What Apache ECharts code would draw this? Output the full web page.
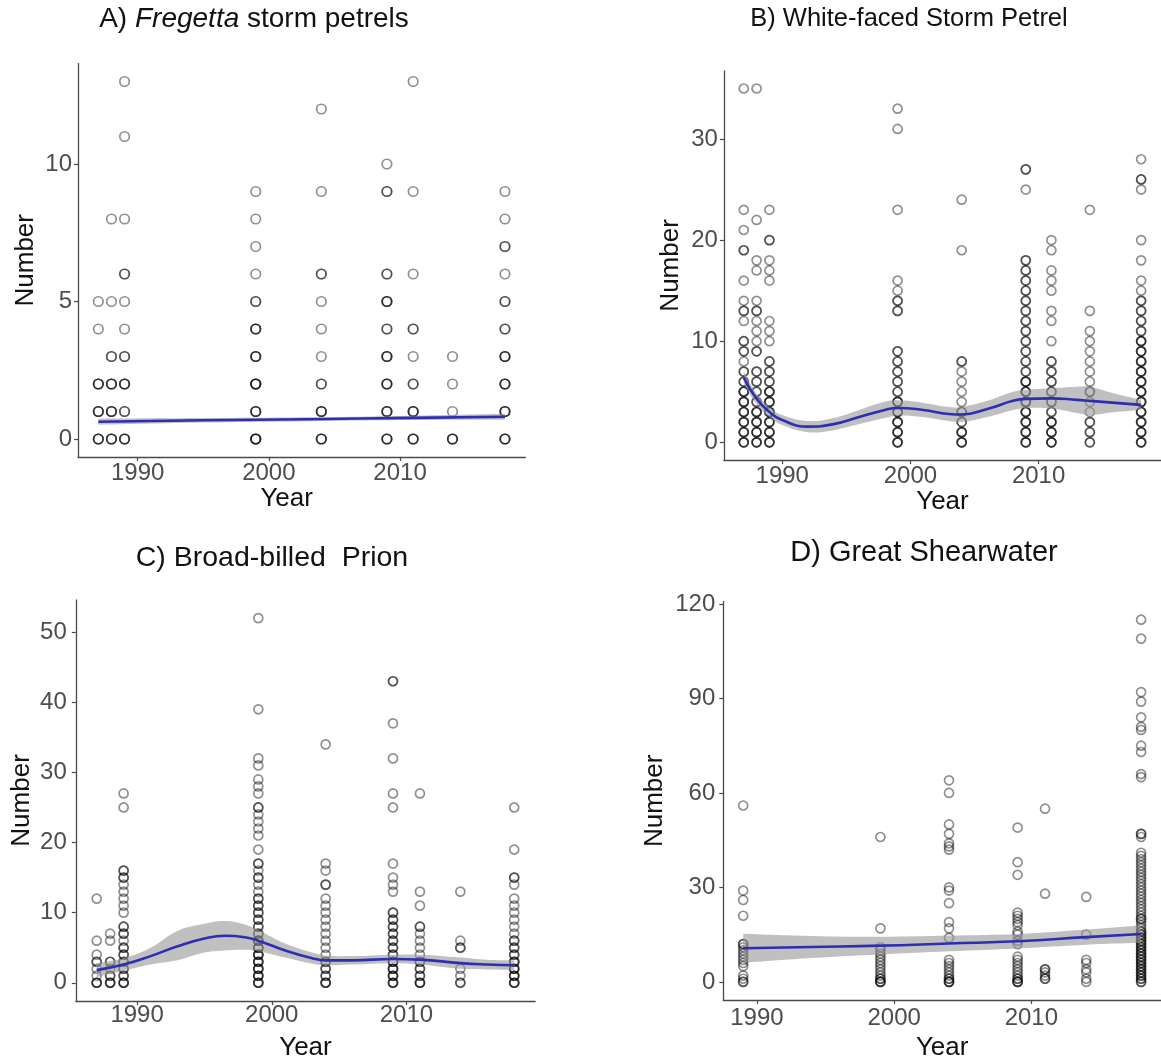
<!DOCTYPE html>
<html>
<head>
<meta charset="utf-8">
<script src="https://cdn.jsdelivr.net/npm/echarts@6/dist/echarts.min.js"></script>
<style>
  html, body { margin: 0; padding: 0; background: #ffffff; }
  #chart { width: 1161px; height: 1062px; }
</style>
</head>
<body>
<div id="chart"></div>
<script>
// ---- Survey counts per year (repeated values = several sightings with the same count) ----
const yearsABC = [1987, 1988, 1989, 1999, 2004, 2009, 2011, 2014, 2018];
const yearsD = [1989, 1999, 2004, 2009, 2011, 2014, 2018];

const fregettaCounts = [
  [0,0,0,1,1,1,2,2,2,4,5],
  [0,0,0,1,1,1,2,2,2,3,3,5,8],
  [0,0,0,1,1,2,2,2,3,3,4,5,6,6,8,11,13],
  [0,0,0,0,1,1,1,2,2,2,2,3,3,3,4,4,4,5,5,6,7,8,9],
  [0,0,0,1,1,1,2,2,3,4,5,6,6,9,12],
  [0,0,0,1,1,1,2,2,2,3,3,3,4,4,5,5,5,6,6,9,9,10],
  [0,0,0,1,1,1,2,2,3,4,4,6,9,13],
  [0,0,0,1,2,3],
  [0,0,0,1,1,1,2,2,2,3,3,3,4,4,5,5,6,7,7,8,9]
];

const whiteFacedCounts = [
  [0,0,0,1,1,1,2,2,2,3,3,3,4,4,4,5,5,5,6,6,7,7,8,9,9,10,10,12,13,13,14,16,19,19,21,23,35],
  [0,0,0,1,1,1,2,2,2,3,3,3,4,4,5,5,6,6,7,7,9,9,10,11,12,13,13,14,17,18,22,35],
  [0,0,0,1,1,1,2,2,2,3,3,3,4,4,4,5,5,5,6,6,7,7,8,8,10,11,12,16,17,18,20,20,23],
  [0,0,0,1,1,1,2,2,2,3,3,3,4,4,4,5,5,6,6,7,7,8,8,9,9,13,13,14,14,15,16,23,31,33],
  [0,0,0,1,1,1,2,2,3,3,4,5,6,7,8,8,19,24],
  [0,0,0,1,1,1,2,2,2,3,3,3,4,4,4,5,5,5,6,6,6,7,7,8,8,9,9,10,10,11,11,12,12,13,13,14,14,15,15,16,16,17,17,18,18,25,27,27],
  [0,0,0,1,1,1,2,2,2,3,3,4,4,5,5,6,6,7,7,8,8,10,12,13,15,16,17,19,20],
  [0,0,1,1,2,2,3,4,5,5,6,7,8,9,10,11,13,23],
  [0,0,0,1,1,1,2,2,2,3,3,3,4,4,4,5,5,5,6,6,6,7,7,7,8,8,8,9,9,9,10,10,10,11,11,12,12,13,13,14,14,15,16,18,20,25,26,26,28]
];

const prionCounts = [
  [0,0,0,1,2,3,3,4,6,12],
  [0,0,0,1,1,2,3,3,6,7],
  [0,0,0,1,1,2,2,3,3,4,4,5,5,6,7,7,8,8,10,11,12,13,14,15,15,16,16,25,27],
  [0,0,0,1,1,1,2,2,2,3,3,3,4,4,4,5,5,5,6,6,6,7,7,8,8,9,9,10,10,11,11,12,12,13,14,15,15,16,17,17,19,21,22,23,24,25,25,27,28,29,31,32,39,52],
  [0,0,0,1,1,2,2,3,3,4,5,6,7,8,9,10,11,12,14,14,16,17,34],
  [0,0,0,1,1,1,2,2,2,3,3,3,4,4,5,5,6,6,7,7,8,8,9,9,10,10,13,14,15,17,25,27,32,37,43,43],
  [0,0,0,1,1,2,2,3,3,4,5,6,7,8,8,11,13,27],
  [0,0,1,2,5,5,6,13],
  [0,0,0,1,1,1,2,2,2,3,3,3,4,4,5,5,6,6,7,8,9,10,11,12,14,15,15,19,25]
];

const shearwaterCounts = [
  [0,0,1,2,5,6,7,8,9,10,11,12,12,21,26,29,56],
  [0,0,0,1,1,2,3,4,5,6,7,8,9,10,11,17,46],
  [0,0,0,1,1,2,3,4,5,6,7,14,17,19,25,29,30,42,43,44,47,50,60,64],
  [0,0,0,1,1,2,3,4,5,6,7,8,12,13,15,16,18,19,20,21,22,34,38,49],
  [1,1,2,3,4,4,28,55],
  [0,1,3,4,6,7,15,27],
  [0,0,1,1,2,2,3,3,4,4,5,5,6,6,7,7,8,8,9,9,10,10,11,11,12,12,13,13,14,14,15,15,16,16,17,18,19,20,20,21,22,23,24,25,26,27,28,29,30,31,32,33,34,35,36,37,38,39,40,41,46,47,47,65,66,73,75,80,81,84,89,92,109,115]
];

// ---- Smoothed trend with confidence band ----
const fitYearsA = [1987, 1995, 2003, 2011, 2018];
const fitA      = [0.63, 0.68, 0.72, 0.77, 0.81];
const fitLowA   = [0.52, 0.60, 0.65, 0.69, 0.70];
const fitHighA  = [0.74, 0.76, 0.79, 0.85, 0.92];

const fitYearsB = [1987, 1988, 1989, 1990, 1992, 1994, 1996, 1998, 1999, 2001, 2003, 2004, 2006, 2008, 2009, 2011, 2013, 2014, 2016, 2018];
const fitB      = [6.4, 4.3, 3.0, 2.2, 1.55, 1.8, 2.5, 3.2, 3.4, 3.2, 2.8, 2.75, 3.3, 4.1, 4.3, 4.35, 4.2, 4.1, 3.9, 3.7];
const fitLowB   = [5.8, 3.8, 2.5, 1.7, 1.0, 1.2, 1.8, 2.4, 2.65, 2.5, 2.1, 2.0, 2.5, 3.2, 3.4, 3.35, 2.9, 2.7, 3.0, 3.2];
const fitHighB  = [7.0, 4.8, 3.5, 2.7, 2.1, 2.4, 3.2, 4.0, 4.15, 3.9, 3.5, 3.5, 4.1, 5.0, 5.2, 5.35, 5.5, 5.5, 4.8, 4.2];

const fitYearsC = [1987, 1989, 1991, 1993, 1995, 1996.5, 1998, 1999, 2001, 2003, 2004, 2006, 2009, 2011, 2014, 2016, 2018];
const fitC      = [1.8, 2.6, 3.8, 5.2, 6.3, 6.7, 6.5, 6.0, 4.6, 3.5, 3.2, 3.2, 3.4, 3.3, 2.8, 2.6, 2.5];
const fitLowC   = [0.8, 1.7, 2.6, 3.2, 4.3, 4.6, 4.7, 4.5, 3.6, 2.7, 2.5, 2.6, 2.8, 2.6, 2.0, 1.9, 1.8];
const fitHighC  = [2.8, 3.5, 5.0, 7.4, 8.4, 8.8, 8.3, 7.5, 5.6, 4.3, 3.9, 3.8, 4.0, 4.0, 3.6, 3.3, 3.2];

const fitYearsD = [1989, 1994, 1999, 2004, 2009, 2014, 2018];
const fitD      = [10.7, 11.1, 11.5, 12.2, 12.9, 14.2, 15.2];
const fitLowD   = [6.1, 7.6, 8.7, 9.7, 10.6, 11.8, 12.4];
const fitHighD  = [15.3, 14.6, 14.3, 14.7, 15.2, 16.6, 18.0];

// ---- Panel layout ----
const FONT = '"Liberation Sans", Arial, sans-serif';
const panels = [
  { grid: { left: 78, top: 63.6, width: 447.3, height: 393.3 },
    xr: [1985.45, 2019.55], yr: [-0.65, 13.65], yTicks: [0, 5, 10],
    years: yearsABC, counts: fregettaCounts,
    fy: fitYearsA, f: fitA, lo: fitLowA, hi: fitHighA,
    sym: 9.5, yGap: 39, xGap: 21, yLblMargin: 6, xLblMargin: 4, yearShift: 30 },
  { grid: { left: 723.9, top: 70.8, width: 443.3, height: 389.2 },
    xr: [1985.45, 2019.55], yr: [-1.75, 36.75], yTicks: [0, 10, 20, 30],
    years: yearsABC, counts: whiteFacedCounts,
    fy: fitYearsB, f: fitB, lo: fitLowB, hi: fitHighB,
    sym: 9, yGap: 40, xGap: 21, yLblMargin: 6, xLblMargin: 4, yearShift: 0 },
  { grid: { left: 75.8, top: 599.9, width: 459.3, height: 403.4 },
    xr: [1985.45, 2019.55], yr: [-2.6, 54.6], yTicks: [0, 10, 20, 30, 40, 50],
    years: yearsABC, counts: prionCounts,
    fy: fitYearsC, f: fitC, lo: fitLowC, hi: fitHighC,
    sym: 9, yGap: 41, xGap: 34, yLblMargin: 9, xLblMargin: 2, yearShift: 0 },
  { grid: { left: 723.3, top: 601.6, width: 440.8, height: 401.7 },
    xr: [1987.55, 2019.45], yr: [-5.75, 120.75], yTicks: [0, 30, 60, 90, 120],
    years: yearsD, counts: shearwaterCounts,
    fy: fitYearsD, f: fitD, lo: fitLowD, hi: fitHighD,
    sym: 9, yGap: 55, xGap: 35, yLblMargin: 8, xLblMargin: 6, yearShift: 0 }
];

const grids = [], xAxes = [], yAxes = [], series = [];

panels.forEach((p, i) => {
  grids.push(Object.assign({ containLabel: false }, p.grid));

  const axisCommon = {
    axisLine: { show: true, onZero: false, lineStyle: { color: '#4a4a4a', width: 1.3 } },
    axisTick: { show: true, length: 4, lineStyle: { color: '#4a4a4a', width: 1.2 } },
    splitLine: { show: false }
  };

  xAxes.push(Object.assign({}, axisCommon, {
    type: 'value', gridIndex: i, min: p.xr[0], max: p.xr[1],
    name: 'Year', nameLocation: 'middle', nameGap: p.xGap,
    nameTextStyle: { fontFamily: FONT, fontSize: 26, color: '#111', padding: [0, p.yearShift, 0, 0] },
    axisTick: Object.assign({}, axisCommon.axisTick, { customValues: [1990, 2000, 2010] }),
    axisLabel: { customValues: [1990, 2000, 2010], formatter: v => String(v),
                 fontFamily: FONT, fontSize: 24, color: '#4d4d4d', margin: p.xLblMargin }
  }));

  yAxes.push(Object.assign({}, axisCommon, {
    type: 'value', gridIndex: i, min: p.yr[0], max: p.yr[1],
    name: 'Number', nameLocation: 'middle', nameGap: p.yGap, nameRotate: 90,
    nameTextStyle: { fontFamily: FONT, fontSize: 26, color: '#111' },
    axisTick: Object.assign({}, axisCommon.axisTick, { customValues: p.yTicks }),
    axisLabel: { customValues: p.yTicks, formatter: v => String(v),
                 fontFamily: FONT, fontSize: 24, color: '#4d4d4d', margin: p.yLblMargin }
  }));

  // open circles, semi-transparent so that repeated counts look darker
  const pts = [];
  p.years.forEach((yr, k) => p.counts[k].forEach(v => pts.push([yr, v])));
  series.push({
    type: 'scatter', xAxisIndex: i, yAxisIndex: i, data: pts,
    symbol: 'circle', symbolSize: p.sym, silent: true, z: 2,
    itemStyle: { color: 'rgba(0,0,0,0)', borderColor: 'rgba(0,0,0,0.55)', borderWidth: 1.7 }
  });

  // confidence band between the lower and upper limits;
  // the corner points are doubled so the smoothing keeps the band ends square
  series.push({
    type: 'custom', xAxisIndex: i, yAxisIndex: i, silent: true, z: 3,
    data: [[p.fy[0], p.lo[0]]],
    renderItem: (params, api) => {
      const upper = p.fy.map((yr, k) => api.coord([yr, p.hi[k]]));
      const lower = p.fy.map((yr, k) => api.coord([yr, p.lo[k]])).reverse();
      const n = upper.length;
      const outline = [upper[0]].concat(upper, [upper[n - 1], lower[0]], lower, [lower[n - 1]]);
      return {
        type: 'polygon',
        shape: { points: outline, smooth: 0.4 },
        style: { fill: 'rgba(150,150,150,0.6)' }
      };
    }
  });

  // fitted trend
  series.push({
    type: 'line', xAxisIndex: i, yAxisIndex: i, smooth: true, z: 4,
    symbol: 'none', silent: true,
    lineStyle: { color: '#2e2eb2', width: 2.6 },
    data: p.fy.map((yr, k) => [yr, p.f[k]])
  });
});

const titleBase = { fontFamily: FONT, fill: '#111', align: 'center', verticalAlign: 'middle' };
const graphics = [
  { type: 'text', x: 254, y: 19, style: Object.assign({}, titleBase, { fontSize: 28,
      text: '{n|A) }{i|Fregetta}{n| storm petrels}',
      rich: { n: { fontFamily: FONT, fontSize: 28, fill: '#111' },
              i: { fontFamily: FONT, fontSize: 28, fontStyle: 'italic', fill: '#111' } } }) },
  { type: 'text', x: 909, y: 19, style: Object.assign({}, titleBase, { fontSize: 25.5, text: 'B) White-faced Storm Petrel' }) },
  { type: 'text', x: 272, y: 558, style: Object.assign({}, titleBase, { fontSize: 28.5, text: 'C) Broad-billed  Prion' }) },
  { type: 'text', x: 924, y: 553, style: Object.assign({}, titleBase, { fontSize: 29, text: 'D) Great Shearwater' }) }
];

const chart = echarts.init(document.getElementById('chart'), null, { renderer: 'canvas' });
chart.setOption({
  backgroundColor: '#ffffff',
  animation: false,
  grid: grids,
  xAxis: xAxes,
  yAxis: yAxes,
  series: series,
  graphic: graphics
});
</script>
</body>
</html>
